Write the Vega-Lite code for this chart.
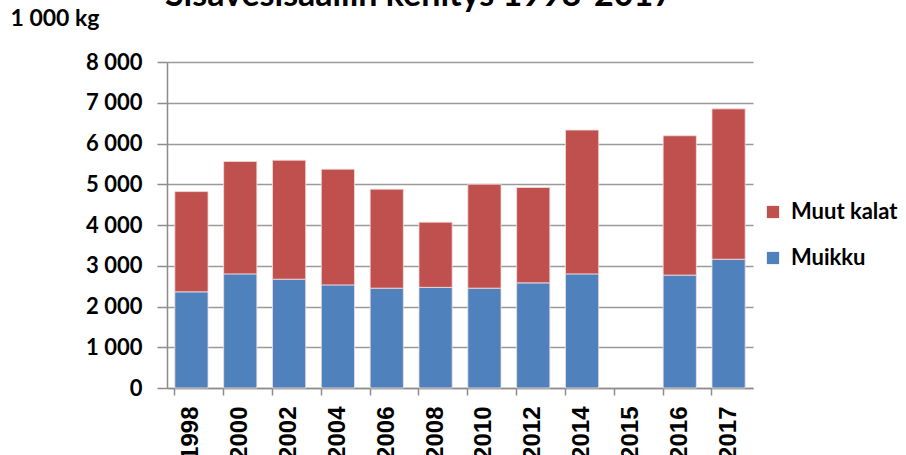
{
  "$schema": "https://vega.github.io/schema/vega-lite/v6.json",
  "width": 586,
  "height": 326,
  "autosize": {"type": "none"},
  "padding": {"left": 167, "top": 62, "right": 153, "bottom": 67},
  "background": "white",
  "title": {
    "text": "Sisävesisaaliin kehitys 1998-2017",
    "anchor": "start",
    "frame": "group",
    "font": "Lato",
    "fontWeight": "bold",
    "fontSize": 34,
    "color": "#000000",
    "baseline": "alphabetic",
    "dx": -2,
    "dy": 33,
    "offset": 0
  },
  "data": {
    "values": [
      {"vuosi": "1998", "laji": "Muikku", "saalis": 2360},
      {"vuosi": "1998", "laji": "Muut kalat", "saalis": 2460},
      {"vuosi": "2000", "laji": "Muikku", "saalis": 2800},
      {"vuosi": "2000", "laji": "Muut kalat", "saalis": 2760},
      {"vuosi": "2002", "laji": "Muikku", "saalis": 2670},
      {"vuosi": "2002", "laji": "Muut kalat", "saalis": 2920},
      {"vuosi": "2004", "laji": "Muikku", "saalis": 2530},
      {"vuosi": "2004", "laji": "Muut kalat", "saalis": 2840},
      {"vuosi": "2006", "laji": "Muikku", "saalis": 2450},
      {"vuosi": "2006", "laji": "Muut kalat", "saalis": 2430},
      {"vuosi": "2008", "laji": "Muikku", "saalis": 2470},
      {"vuosi": "2008", "laji": "Muut kalat", "saalis": 1600},
      {"vuosi": "2010", "laji": "Muikku", "saalis": 2450},
      {"vuosi": "2010", "laji": "Muut kalat", "saalis": 2550},
      {"vuosi": "2012", "laji": "Muikku", "saalis": 2580},
      {"vuosi": "2012", "laji": "Muut kalat", "saalis": 2340},
      {"vuosi": "2014", "laji": "Muikku", "saalis": 2800},
      {"vuosi": "2014", "laji": "Muut kalat", "saalis": 3530},
      {"vuosi": "2016", "laji": "Muikku", "saalis": 2770},
      {"vuosi": "2016", "laji": "Muut kalat", "saalis": 3420},
      {"vuosi": "2017", "laji": "Muikku", "saalis": 3160},
      {"vuosi": "2017", "laji": "Muut kalat", "saalis": 3690}
    ]
  },
  "mark": {"type": "bar", "stroke": "#f4dede", "strokeWidth": 0.8},
  "encoding": {
    "x": {
      "field": "vuosi",
      "type": "nominal",
      "scale": {
        "domain": ["1998", "2000", "2002", "2004", "2006", "2008", "2010", "2012", "2014", "2015", "2016", "2017"],
        "paddingInner": 0.32,
        "paddingOuter": 0.16
      },
      "axis": {
        "title": null,
        "labelAngle": -90,
        "labelAlign": "right",
        "labelBaseline": "middle",
        "labelFont": "Liberation Sans",
        "labelFontWeight": "bold",
        "labelFontSize": 24,
        "labelColor": "#000000",
        "labelPadding": 11,
        "bandPosition": 0,
        "tickSize": 7,
        "tickColor": "#8c8c8c",
        "tickWidth": 1.5,
        "domainColor": "#8c8c8c",
        "domainWidth": 1.5,
        "grid": false
      }
    },
    "y": {
      "field": "saalis",
      "type": "quantitative",
      "stack": "zero",
      "scale": {"domain": [0, 8000]},
      "axis": {
        "values": [0, 1000, 2000, 3000, 4000, 5000, 6000, 7000, 8000],
        "labelExpr": "replace(format(datum.value, ','), ',', ' ')",
        "labelFont": "Lato",
        "labelFontWeight": "bold",
        "labelFontSize": 22,
        "labelColor": "#000000",
        "labelPadding": 15,
        "tickSize": 10,
        "tickColor": "#8c8c8c",
        "tickWidth": 1.5,
        "domainColor": "#8c8c8c",
        "domainWidth": 1.5,
        "gridColor": "#9a9a9a",
        "gridWidth": 1.5,
        "title": "1 000 kg",
        "titleFont": "Lato",
        "titleFontWeight": "bold",
        "titleFontSize": 23,
        "titleColor": "#000000",
        "titleAngle": 0,
        "titleAlign": "left",
        "titleBaseline": "alphabetic",
        "titleX": -157,
        "titleY": -37
      }
    },
    "color": {
      "field": "laji",
      "type": "nominal",
      "scale": {"domain": ["Muut kalat", "Muikku"], "range": ["#C0504D", "#4F81BD"]},
      "legend": {
        "title": null,
        "orient": "none",
        "legendX": 595,
        "legendY": 139,
        "symbolType": "square",
        "symbolSize": 150,
        "symbolStrokeWidth": 0,
        "labelFont": "Lato",
        "labelFontWeight": "bold",
        "labelFontSize": 22,
        "labelColor": "#000000",
        "labelOffset": 7,
        "rowPadding": 24
      }
    },
    "order": {"field": "laji", "sort": "ascending"}
  },
  "config": {"view": {"stroke": null}}
}
